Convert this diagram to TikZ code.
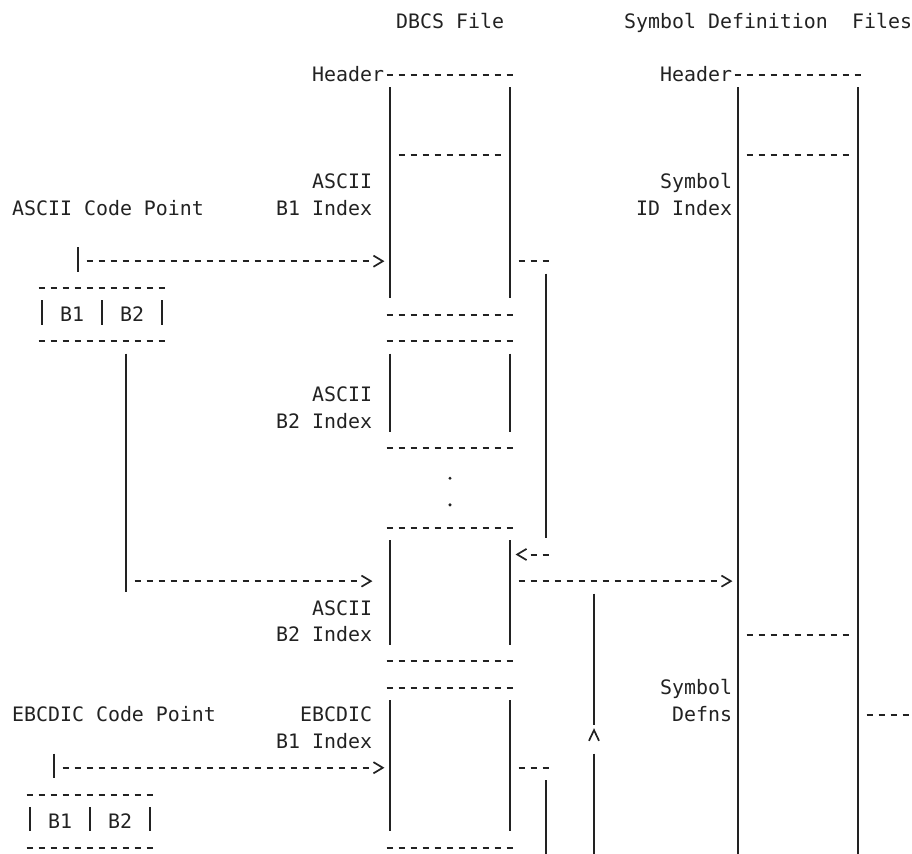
\documentclass[tikz,border=0pt]{standalone}
\usepackage{fontspec}
\setmonofont{DejaVu Sans Mono}
\definecolor{ink}{RGB}{34,34,34}
% text at column #2, line #3
\newcommand\myT[4]{\node[txt] (#1) at (#2,{#3+0.281}) {#4};}
% dashed run on line #1 from column #2 to column #3
\newcommand\myhd[3]{\draw[dashrun] ({#2+0.22},{#1+0.02}) -- ({#3+0.78},{#1+0.02});}
% vertical bar in column #1 from line #2 to line #3
\newcommand\myvb[3]{\draw[barline] ({#1+0.5},{#2-0.52}) -- ({#1+0.5},{#3+0.4});}
% right / left chevron on line #1 in column #2
\newcommand\myra[2]{\draw[tipline] ({#2+0.12},{#1-0.2}) -- ({#2+0.9},{#1+0.01}) -- ({#2+0.12},{#1+0.22});}
\newcommand\myla[2]{\draw[tipline] ({#2+0.88},{#1-0.2}) -- ({#2+0.1},{#1+0.01}) -- ({#2+0.88},{#1+0.22});}
\begin{document}
\begin{tikzpicture}[x=12pt, y={(0pt,-26.66pt)},
  txt/.style={anchor=base west, inner sep=0pt, text=ink,
    font=\ttfamily\fontsize{19.9pt}{26.66pt}\selectfont},
  dashrun/.style={draw=ink, line width=2pt, dash pattern=on 6.6pt off 5.4pt},
  barline/.style={draw=ink, line width=1.9pt},
  tipline/.style={draw=ink, line width=1.7pt},
  dotmark/.style={circle, fill=ink, inner sep=0pt, minimum size=3.4pt}]
\useasboundingbox (0,0.2123) rectangle (76,32.2123);

% ---- texts
\myT{dbcs}{33}{1}{DBCS File}
\myT{sdf}{52}{1}{Symbol Definition}
\myT{files}{71}{1}{Files}
\myT{hdrA}{26}{3}{Header}
\myT{hdrB}{55}{3}{Header}
\myT{asciiA}{26}{7}{ASCII}
\myT{symA}{55}{7}{Symbol}
\myT{acp}{1}{8}{ASCII Code Point}
\myT{bA}{23}{8}{B1 Index}
\myT{idx}{53}{8}{ID Index}
\myT{kb1}{5}{12}{B1}
\myT{kb2}{10}{12}{B2}
\myT{asciiB}{26}{15}{ASCII}
\myT{bB}{23}{16}{B2 Index}
\myT{asciiC}{26}{23}{ASCII}
\myT{bC}{23}{24}{B2 Index}
\myT{symB}{55}{26}{Symbol}
\myT{ecp}{1}{27}{EBCDIC Code Point}
\myT{ebc}{25}{27}{EBCDIC}
\myT{defns}{56}{27}{Defns}
\myT{bD}{23}{28}{B1 Index}
\myT{eb1}{4}{31}{B1}
\myT{eb2}{9}{31}{B2}
\node[dotmark] (dotA) at (37.5,18.15) {};
\node[dotmark] (dotB) at (37.5,19.15) {};

% ---- vertical bars
\myvb{32}{4}{11}\myvb{32}{14}{16}\myvb{32}{21}{24}\myvb{32}{27}{31}
\myvb{42}{4}{11}\myvb{42}{14}{16}\myvb{42}{21}{24}\myvb{42}{27}{31}
\myvb{45}{11}{20}\myvb{45}{30}{32.3}
\myvb{49}{23}{27}\myvb{49}{29}{32.3}
\myvb{61}{4}{32.3}\myvb{71}{4}{32.3}
\myvb{6}{10}{10}\myvb{10}{14}{22}\myvb{4}{29}{29}
\myvb{3}{12}{12}\myvb{8}{12}{12}\myvb{13}{12}{12}
\myvb{2}{31}{31}\myvb{7}{31}{31}\myvb{12}{31}{31}

% ---- dashed runs
\myhd{3}{32}{42}\myhd{3}{61}{71}
\myhd{6}{33}{41}\myhd{6}{62}{70}
\myhd{10}{7}{30}\myra{10}{31}\myhd{10}{43}{45}
\myhd{11}{3}{13}
\myhd{12}{32}{42}
\myhd{13}{3}{13}\myhd{13}{32}{42}
\myhd{17}{32}{42}
\myhd{20}{32}{42}
\myla{21}{43}\myhd{21}{44}{45}
\myhd{22}{11}{29}\myra{22}{30}\myhd{22}{43}{59}\myra{22}{60}
\myhd{24}{62}{70}
\myhd{25}{32}{42}\myhd{26}{32}{42}
\myhd{27}{72}{75}
\myhd{29}{5}{30}\myra{29}{31}\myhd{29}{43}{45}
\myhd{30}{2}{12}
\myhd{32}{2}{12}\myhd{32}{32}{42}

% ---- caret
\draw[tipline] (49.08,28.0) -- (49.5,27.6) -- (49.92,28.0);
\end{tikzpicture}
\end{document}
